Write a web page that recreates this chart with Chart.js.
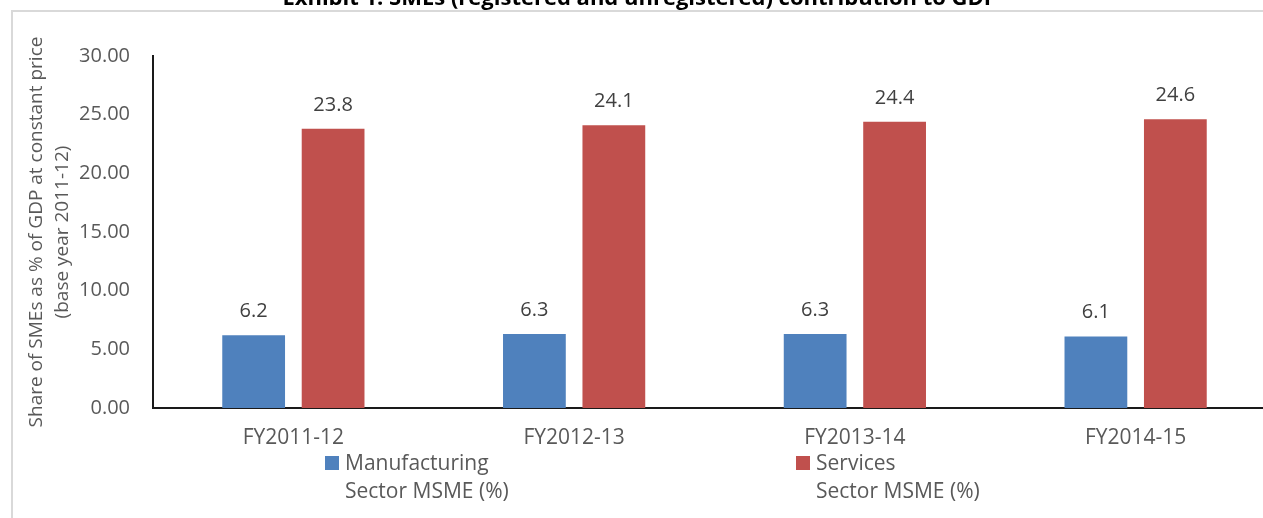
<!DOCTYPE html>
<html>
<head>
<meta charset="utf-8">
<script src="https://cdn.jsdelivr.net/npm/chart.js@4/dist/chart.umd.min.js"></script>
<style>
  html, body { margin: 0; padding: 0; background: #fff; overflow: hidden; }
  #wrap { position: relative; width: 1263px; height: 518px; overflow: hidden; }
  canvas { position: absolute; left: 0; top: 0; }
</style>
</head>
<body>
<div id="wrap"><canvas id="chart" width="1320" height="518"></canvas></div>
<script>
"use strict";

const TITLE = 'Exhibit 1: SMEs (registered and unregistered) contribution to GDP';
const CATEGORIES = ['FY2011-12', 'FY2012-13', 'FY2013-14', 'FY2014-15'];
const MANUFACTURING = [6.2, 6.3, 6.3, 6.1];
const SERVICES = [23.8, 24.1, 24.4, 24.6];
const SERIES_LABELS = [['Manufacturing', 'Sector MSME (%)'], ['Services', 'Sector MSME (%)']];
const Y_TITLE = ['Share of SMEs as % of GDP at constant price', '(base year 2011-12)'];
const Y_MIN = 0, Y_MAX = 30, Y_STEP = 5;

const FONT = "'Open Sans', sans-serif";
const TEXT_GREY = '#595959';

// frame, clipped title, value labels and the two-line legend
const decorations = {
  id: 'decorations',
  beforeDraw(chart) {
    const ctx = chart.ctx;
    ctx.save();
    ctx.strokeStyle = '#d9d9d9';
    ctx.lineWidth = 2;
    ctx.beginPath();
    ctx.moveTo(12, 600);
    ctx.lineTo(12, 11);
    ctx.lineTo(1400, 11);
    ctx.stroke();

    ctx.fillStyle = '#000';
    ctx.font = 'bold 22px ' + FONT;
    ctx.textAlign = 'center';
    ctx.textBaseline = 'alphabetic';
    ctx.fillText(TITLE, 640, 5);
    ctx.restore();
  },
  afterDatasetsDraw(chart) {
    const ctx = chart.ctx;
    ctx.save();
    ctx.font = '20px ' + FONT;
    ctx.fillStyle = '#404040';
    ctx.textAlign = 'center';
    ctx.textBaseline = 'alphabetic';
    chart.data.datasets.forEach(function(ds, i) {
      chart.getDatasetMeta(i).data.forEach(function(bar, j) {
        ctx.fillText(ds.data[j].toFixed(1), bar.x, bar.y - 18);
      });
    });

    const legendX = [325, 796];
    ctx.font = '21px ' + FONT;
    chart.data.datasets.forEach(function(ds, i) {
      ctx.fillStyle = ds.backgroundColor;
      ctx.fillRect(legendX[i], 456, 14, 14);
      ctx.fillStyle = TEXT_GREY;
      ctx.textAlign = 'left';
      SERIES_LABELS[i].forEach(function(line, k) {
        ctx.fillText(line, legendX[i] + 20, 470 + k * 28);
      });
    });
    ctx.restore();
  }
};

const chart = new Chart('chart', {
  type: 'bar',
  data: {
    labels: CATEGORIES,
    datasets: [{
      label: SERIES_LABELS[0].join(' '),
      data: MANUFACTURING,
      backgroundColor: '#4f81bd'
    }, {
      label: SERIES_LABELS[1].join(' '),
      data: SERVICES,
      backgroundColor: '#c0504d'
    }]
  },
  options: {
    responsive: false,
    animation: false,
    devicePixelRatio: 1,
    layout: { padding: { top: 56, left: 0, right: 44, bottom: 0 } },
    categoryPercentage: 0.566,
    barPercentage: 0.79,
    plugins: {
      legend: { display: false },
      tooltip: { enabled: false },
      title: { display: false }
    },
    scales: {
      x: {
        grid: { display: false, drawTicks: false },
        border: { display: true, color: '#1a1a1a', width: 2 },
        ticks: { color: TEXT_GREY, font: { family: FONT, size: 21 }, padding: 17, maxRotation: 0 },
        afterFit(scale) { scale.height = 110; }
      },
      y: {
        min: Y_MIN,
        max: Y_MAX,
        grid: { display: false, drawTicks: false },
        border: { display: true, color: '#1a1a1a', width: 2 },
        ticks: {
          stepSize: Y_STEP,
          color: TEXT_GREY,
          font: { family: FONT, size: 20 },
          padding: 23,
          callback: function(v) { return v.toFixed(2); }
        },
        title: {
          display: true,
          text: Y_TITLE,
          color: TEXT_GREY,
          font: { family: FONT, size: 19, lineHeight: '26px' },
          padding: { top: 24, bottom: 0 }
        },
        afterFit(scale) { scale.width = 153; }
      }
    }
  },
  plugins: [decorations]
});
</script>
</body>
</html>
